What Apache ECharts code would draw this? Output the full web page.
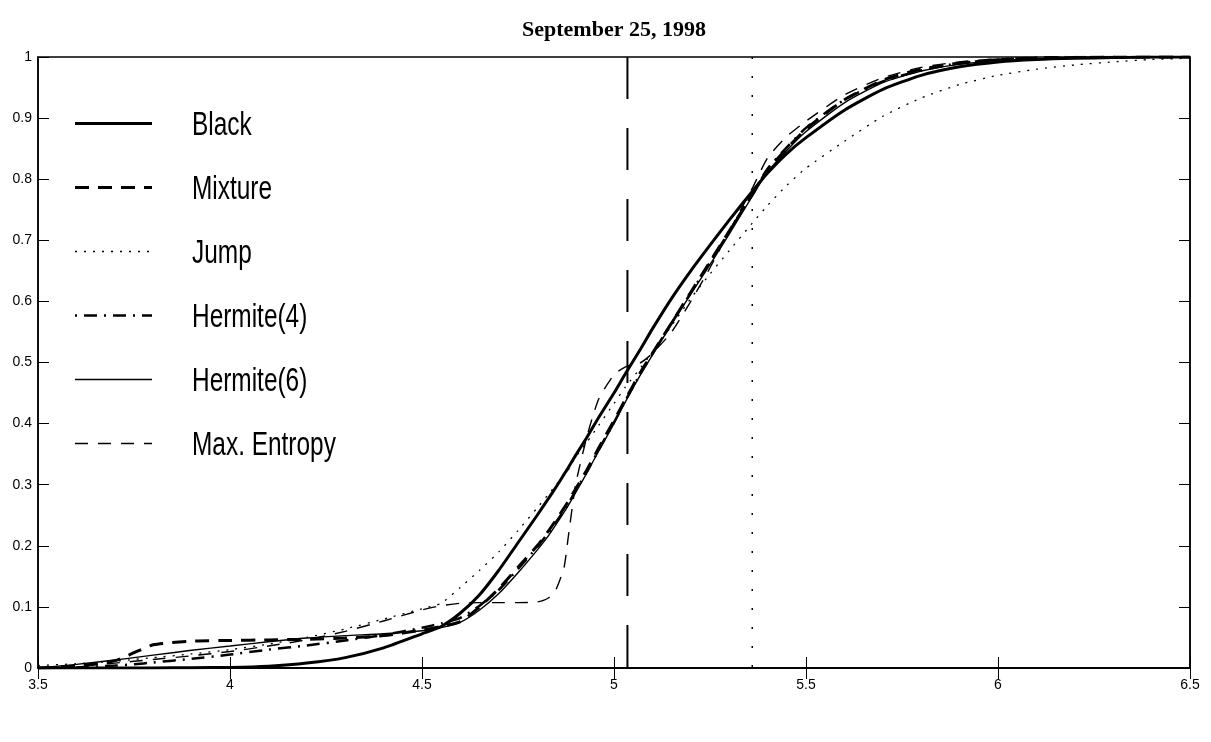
<!DOCTYPE html>
<html><head><meta charset="utf-8">
<script src="https://cdn.jsdelivr.net/npm/echarts@6/dist/echarts.min.js"></script>
<style>html,body{margin:0;padding:0;background:#fff}#c{width:1211px;height:742px}</style>
</head><body><div id="c"></div>
<script>
// common x grid (strike levels)
const xs = [3.5,3.6,3.7,3.75,3.8,3.9,4.0,4.1,4.2,4.3,4.4,4.5,4.55,4.6,4.65,4.7,4.75,4.8,4.83,4.85,4.87,4.88,4.9,4.93,4.96,5.0,5.03,5.07,5.1,5.15,5.2,5.25,5.3,5.36,5.4,5.45,5.5,5.6,5.7,5.8,5.9,6.0,6.1,6.2,6.3,6.4,6.5];
const black = [0,0,0,0,0,0.0005,0.001,0.003,0.008,0.017,0.033,0.056,0.068,0.09,0.12,0.16,0.205,0.25,0.278,0.297,0.317,0.327,0.348,0.378,0.41,0.45,0.482,0.523,0.555,0.605,0.65,0.692,0.733,0.78,0.81,0.842,0.868,0.913,0.947,0.97,0.984,0.992,0.996,0.998,0.999,1,1];
const mixture = [0,0.003,0.012,0.025,0.038,0.044,0.045,0.046,0.047,0.049,0.053,0.062,0.068,0.076,0.1,0.13,0.165,0.2,0.225,0.243,0.262,0.272,0.293,0.325,0.36,0.405,0.44,0.485,0.515,0.565,0.615,0.665,0.715,0.775,0.815,0.85,0.882,0.93,0.962,0.98,0.99,0.995,0.998,0.999,1,1,1];
const jump = [0.004,0.007,0.011,0.014,0.017,0.023,0.03,0.039,0.05,0.064,0.08,0.097,0.106,0.132,0.16,0.19,0.225,0.262,0.285,0.3,0.315,0.323,0.345,0.37,0.397,0.433,0.46,0.492,0.517,0.56,0.605,0.645,0.683,0.728,0.757,0.79,0.818,0.862,0.903,0.933,0.955,0.97,0.98,0.987,0.992,0.996,0.998];
const hermite4 = [0,0.001,0.004,0.006,0.009,0.015,0.022,0.03,0.037,0.045,0.054,0.066,0.073,0.082,0.102,0.128,0.162,0.198,0.222,0.24,0.258,0.268,0.29,0.322,0.357,0.402,0.438,0.483,0.514,0.565,0.614,0.664,0.714,0.776,0.817,0.852,0.884,0.93,0.96,0.978,0.99,0.996,0.999,1,1,1,1];
const hermite6 = [0,0.006,0.013,0.017,0.021,0.029,0.036,0.043,0.049,0.053,0.056,0.061,0.066,0.075,0.095,0.122,0.156,0.193,0.217,0.236,0.255,0.265,0.287,0.32,0.355,0.4,0.436,0.481,0.512,0.563,0.612,0.66,0.71,0.772,0.812,0.847,0.878,0.925,0.958,0.977,0.988,0.994,0.997,0.999,1,1,1];
const maxEntropy = [0,0.003,0.008,0.011,0.014,0.02,0.027,0.036,0.046,0.06,0.077,0.095,0.102,0.106,0.107,0.107,0.107,0.108,0.115,0.13,0.165,0.21,0.3,0.38,0.44,0.48,0.493,0.5,0.515,0.55,0.6,0.655,0.715,0.785,0.835,0.87,0.895,0.938,0.966,0.983,0.992,0.997,0.999,1,1,1,1];
const seriesNames = ['Black','Mixture','Jump','Hermite(4)','Hermite(6)','Max. Entropy'];
const dashedMarkerX = 5.035;
const dottedMarkerX = 5.36;
const titleText = 'September 25, 1998';

const styles = {
  'Black': {width: 3, type: 'solid'},
  'Mixture': {width: 3, type: [14, 9]},
  'Jump': {width: 1.3, type: [2, 7]},
  'Hermite(4)': {width: 2.5, type: [2, 7, 13, 7]},
  'Hermite(6)': {width: 1.4, type: 'solid'},
  'Max. Entropy': {width: 1.4, type: [13, 10]}
};
const values = [black, mixture, jump, hermite4, hermite6, maxEntropy];

const lineSeries = seriesNames.map((n, k) => ({
  name: n, type: 'line', symbol: 'none', smooth: 0.2,
  data: xs.map((x, i) => [x, values[k][i]]),
  lineStyle: {color: '#000', width: styles[n].width, type: styles[n].type},
  itemStyle: {color: '#000'}, z: 3
}));
lineSeries.push({
  type: 'line', symbol: 'none', silent: true,
  data: [[dashedMarkerX, 1], [dashedMarkerX, 0]],
  lineStyle: {color: '#000', width: 2, type: [42, 29]}
});
lineSeries.push({
  type: 'line', symbol: 'none', silent: true,
  data: [[dottedMarkerX, 1], [dottedMarkerX, 0]],
  lineStyle: {color: '#000', width: 1.5, type: [2, 17]}
});

// legend (sample line + condensed label)
const legX0 = 75, legX1 = 152, legTextX = 192, legTop = 122.5, legStep = 64;
const legendGraphics = [];
seriesNames.forEach((n, k) => {
  const cy = Math.round(legTop + k * legStep) + 0.5;
  const st = styles[n];
  legendGraphics.push({
    type: 'line', shape: {x1: legX0, y1: cy, x2: legX1, y2: cy},
    style: {stroke: '#000', lineWidth: st.width, lineDash: st.type === 'solid' ? null : st.type}
  });
  legendGraphics.push({
    type: 'text', x: legTextX, y: cy + 2, scaleX: 0.74,
    style: {text: n, fill: '#000', font: '33px "Liberation Sans", Arial, sans-serif', textVerticalAlign: 'middle', textAlign: 'left'}
  });
});

const labelFont = {color: '#000', fontFamily: 'Liberation Sans, sans-serif', fontSize: 14};
const chart = echarts.init(document.getElementById('c'), null, {renderer: 'canvas'});
chart.setOption({
  animation: false,
  backgroundColor: '#fff',
  title: {text: titleText, left: 609, top: 14, textAlign: 'center',
    textStyle: {fontFamily: 'Liberation Serif, serif', fontWeight: 'bold', fontSize: 22, color: '#000'}},
  grid: {left: 38, right: 21, top: 57, bottom: 74, show: true, borderColor: '#000', borderWidth: 1.5},
  xAxis: [
    {type: 'value', min: 3.5, max: 6.5, interval: 0.5, position: 'bottom',
     axisLine: {lineStyle: {color: '#000', width: 1.5}},
     axisTick: {inside: true, length: 11, lineStyle: {color: '#000'}},
     axisLabel: {...labelFont, margin: 10}, splitLine: {show: false}},
    {type: 'value', min: 3.5, max: 6.5, interval: 0.5, position: 'top',
     axisLine: {lineStyle: {color: '#000', width: 1.5}},
     axisTick: {inside: true, length: 11, lineStyle: {color: '#000'}},
     axisLabel: {show: false}, splitLine: {show: false}}
  ],
  yAxis: [
    {type: 'value', min: 0, max: 1, interval: 0.1, position: 'left',
     axisLine: {lineStyle: {color: '#000', width: 1.5}},
     axisTick: {inside: true, length: 11, lineStyle: {color: '#000'}},
     axisLabel: {...labelFont, margin: 6}, splitLine: {show: false}},
    {type: 'value', min: 0, max: 1, interval: 0.1, position: 'right',
     axisLine: {lineStyle: {color: '#000', width: 1.5}},
     axisTick: {inside: true, length: 11, lineStyle: {color: '#000'}},
     axisLabel: {show: false}, splitLine: {show: false}}
  ],
  graphic: legendGraphics,
  series: lineSeries
});
</script></body></html>
